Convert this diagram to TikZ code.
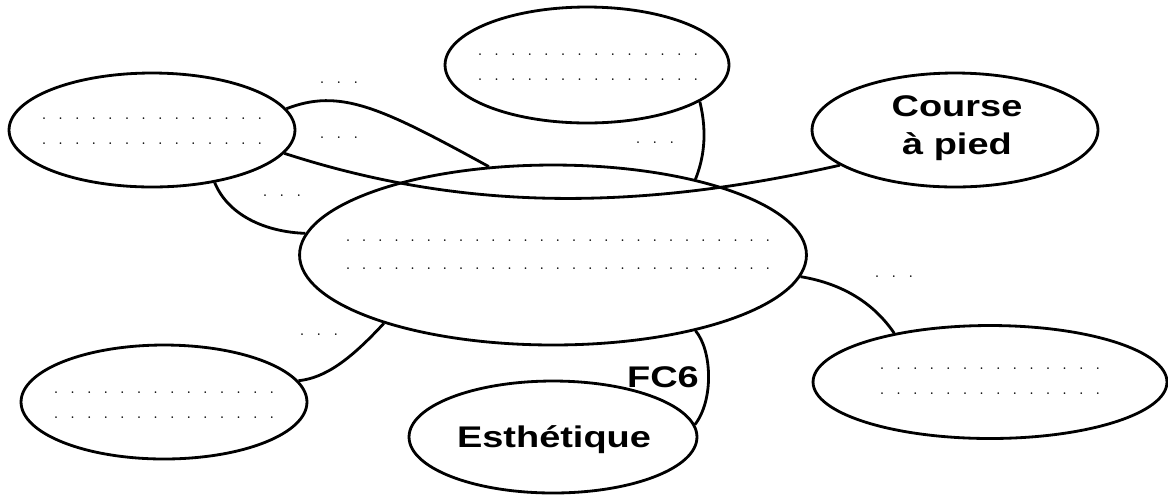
\documentclass[tikz,border=0pt]{standalone}
\usepackage{fontspec}
\newfontfamily\lblfont{Liberation Sans}[FakeStretch=1.27]
\usetikzlibrary{shapes.geometric}
\newcommand\dotrow[2]{\foreach \dotidx in {1,...,#1}{\hbox to #2{\hss.\hss}}}
\begin{document}
\begin{tikzpicture}[x=0.02cm,y=-0.02cm,
  bub/.style={ellipse, draw, line width=1.6pt, inner sep=0pt},
  lbl/.style={font=\lblfont\bfseries\fontsize{17}{22}\selectfont, align=center, inner sep=0pt},
  dotbox/.style={font=\fontsize{9}{14.2}\selectfont, align=center, inner sep=0pt},
  link/.style={line width=1.6pt}]
\useasboundingbox (0,0) rectangle (1168,495);
% ellipses
\node[bub, minimum width=5.72cm, minimum height=2.28cm] (L1) at (152,130) {};
\node[bub, minimum width=5.68cm, minimum height=2.32cm] (T) at (587,65) {};
\node[bub, minimum width=5.72cm, minimum height=2.28cm] (C) at (955,130) {};
\node[bub, minimum width=10.14cm, minimum height=3.6cm] (M) at (553,255) {};
\node[bub, minimum width=5.72cm, minimum height=2.28cm] (BL) at (164,402) {};
\node[bub, minimum width=5.76cm, minimum height=2.24cm] (E) at (553,437) {};
\node[bub, minimum width=7.08cm, minimum height=2.26cm] (BR) at (990,382) {};
% texts inside
\node[dotbox] (L1t) at (152,131) {\dotrow{14}{9.45pt}\\\dotrow{14}{9.45pt}};
\node[dotbox] (Tt) at (588,67) {\dotrow{14}{9.45pt}\\\dotrow{14}{9.45pt}};
\node[dotbox, font=\fontsize{9}{15.9}\selectfont] (Mt) at (558,255) {\dotrow{27}{9.19pt}\\\dotrow{27}{9.19pt}};
\node[dotbox] (BLt) at (164,405) {\dotrow{14}{9.45pt}\\\dotrow{14}{9.45pt}};
\node[dotbox] (BRt) at (990,381) {\dotrow{14}{9.45pt}\\\dotrow{14}{9.45pt}};
\node[lbl] (Ct) at (957,128) {Course\\à pied};
\node[lbl] (Et) at (554,440) {Esthétique};
% connectors
\draw[link] (L1.9.5) .. controls (340,88) and (380,107) .. (M.126.4);
\draw[link] (L1.-10.9) .. controls (450,207) and (620,215) .. (C.197.2);
\draw[link] (T.-18.9) .. controls (708,135) and (703,160) .. (M.28);
\draw[link] (L1.-40.8) .. controls (228,215) and (265,232) .. (M.175.9);
\draw[link] (M.202.8) .. controls (350,360) and (325,378) .. (BL.9.5);
\draw[link] (M.-5.6) .. controls (845,284) and (875,305) .. (BR.153.9);
\draw[link] (M.-28.6) .. controls (712,350) and (714,400) .. (E.5.7);
% labels
\node[lbl] (fc6) at (663,377) {FC6};
\node[dotbox] (d1) at (339,83) {\dotrow{3}{9.6pt}};
\node[dotbox] (d2) at (339,138) {\dotrow{3}{9.6pt}};
\node[dotbox] (d3) at (282,196) {\dotrow{3}{9.6pt}};
\node[dotbox] (d4) at (655,143) {\dotrow{3}{9.6pt}};
\node[dotbox] (d5) at (894,277) {\dotrow{3}{9.6pt}};
\node[dotbox] (d6) at (319,335) {\dotrow{3}{9.6pt}};
\end{tikzpicture}
\end{document}
